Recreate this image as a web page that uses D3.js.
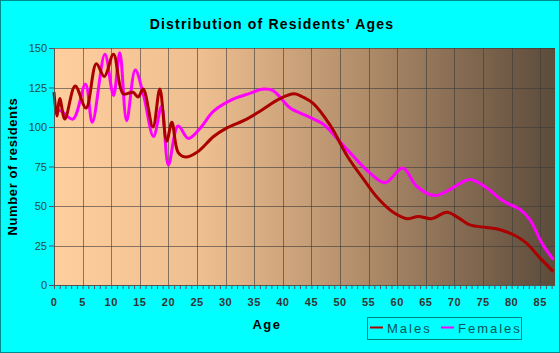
<!DOCTYPE html>
<html lang="en">
  <head>
    <meta charset="UTF-8" />
    <title>Distribution of Residents' Ages</title>
    <style>
      body { margin: 0; background: #fff; }
      svg { display: block; font-family: Arial, "Liberation Sans", sans-serif; }
    </style>
  </head>
  <body>
    <div class="chart"></div>
    <script src="https://d3js.org/d3.v7.min.js"></script>
    <script>
      // 資料（從圖上讀出的估計值）
      const maleAges = [0, 0.5, 1, 1.9, 3.7, 5.6, 7.4, 8.8, 10.4, 12.1, 13.8, 14.7, 15.6, 17.3, 18.5, 19.7, 20.6, 21.7, 23, 25, 27.9, 30, 33.7, 36, 39.5, 42, 43.5, 45.3, 48.3, 51.2, 54.1, 56.6, 59.3, 61.7, 63.7, 66, 68.7, 70.5, 72.7, 75.6, 78, 80.9, 82.6, 85, 87.3];
      const maleValues = [122, 107, 118, 105, 126, 112, 140, 132, 146, 121, 122, 119, 124, 100, 124, 91, 103, 84, 81, 84, 94, 99, 105, 110, 118, 121, 119, 115, 101, 82, 67, 55, 46, 42, 43.4, 42, 46, 43, 38, 36.4, 35, 30.7, 26.5, 17, 8.5];

      const femaleAges = [0, 1.3, 3.3, 5.5, 6.7, 8.9, 10.4, 11.5, 12.7, 14.2, 15.6, 17.4, 18.8, 20, 21.7, 23.5, 25.5, 27.9, 31.3, 34, 36.6, 38.3, 41.3, 44.2, 47.1, 49.4, 52.3, 55.2, 57.9, 61, 63.4, 66.6, 69.2, 72.7, 75.6, 78.6, 81.5, 83.2, 85.3, 87.3];
      const femaleValues = [111, 110, 105, 127, 103, 146, 120, 147, 104, 136, 121, 94, 113, 76, 100.6, 92.8, 99, 110, 117.6, 121, 124, 123, 112, 107, 101.7, 93, 81.6, 71, 64.7, 74, 62.5, 56.6, 60.4, 66.8, 61.5, 53, 47.7, 41.3, 26.5, 16];

      const xTicks = d3.range(0, 90, 5);
      const yTicks = [0, 25, 50, 75, 100, 125, 150];
      const seriesNames = ["Males", "Females"];

      const w = 560, h = 353;
      const margin = { top: 48, right: 5, bottom: 68, left: 54 };

      const svg = d3.select(".chart").append("svg").attr("width", w).attr("height", h);

      // 背景
      svg.append("rect").attr("x", 0).attr("y", 0).attr("width", w).attr("height", h)
        .attr("fill", "#00FFFF").attr("stroke", "#008B8B").attr("stroke-width", 2);

      const xScale = d3.scaleLinear().domain([0, 87.5]).range([margin.left, 554.5]);
      const yScale = d3.scaleLinear().domain([0, 150]).range([h - margin.bottom, margin.top]);

      // 漸層
      const grad = svg.append("defs").append("linearGradient").attr("id", "bg")
        .attr("x1", "0%").attr("x2", "100%").attr("y1", "0%").attr("y2", "0%");
      grad.append("stop").attr("offset", "0%").attr("stop-color", "#FFCE9E");
      grad.append("stop").attr("offset", "30%").attr("stop-color", "#EDBE8F");
      grad.append("stop").attr("offset", "60%").attr("stop-color", "#B48F6C");
      grad.append("stop").attr("offset", "100%").attr("stop-color", "#5C4B3B");

      svg.append("rect")
        .attr("x", xScale(0)).attr("y", yScale(150))
        .attr("width", 555 - xScale(0)).attr("height", yScale(0) - yScale(150))
        .attr("fill", "url(#bg)");

      // 格線
      const grid = svg.append("g").attr("stroke", "#3a3a3a").attr("stroke-opacity", 0.6).attr("stroke-width", 1);
      grid.selectAll(".vg").data(xTicks.filter((d) => d > 0)).enter().append("line")
        .attr("x1", (d) => Math.round(xScale(d)) + 0.5).attr("x2", (d) => Math.round(xScale(d)) + 0.5)
        .attr("y1", yScale(150)).attr("y2", yScale(0));
      grid.selectAll(".hg").data(yTicks.filter((d) => d > 0)).enter().append("line")
        .attr("x1", xScale(0)).attr("x2", 555)
        .attr("y1", (d) => Math.round(yScale(d)) + 0.5).attr("y2", (d) => Math.round(yScale(d)) + 0.5);

      // 線條
      const line = d3.line().x((d) => xScale(d[0])).y((d) => yScale(d[1])).curve(d3.curveCatmullRom.alpha(0.5));
      const maleData = maleAges.map((a, i) => [a, maleValues[i]]);
      const femaleData = femaleAges.map((a, i) => [a, femaleValues[i]]);

      svg.append("path").datum(femaleData).attr("d", line)
        .attr("fill", "none").attr("stroke", "#FF00FF").attr("stroke-width", 3);
      svg.append("path").datum(maleData).attr("d", line)
        .attr("fill", "none").attr("stroke", "#AA0000").attr("stroke-width", 3);

      // X 軸
      const xAxis = d3.axisBottom(xScale).tickValues(d3.range(0, 88, 1)).tickSize(4).tickFormat("");
      const xg = svg.append("g").attr("transform", `translate(0, ${yScale(0)})`).call(xAxis);
      xg.select(".domain").attr("stroke", "#555").attr("d", `M${xScale(0)},0.5H555`);
      xg.selectAll(".tick line").attr("stroke", "#555");

      svg.append("g").selectAll("text").data(xTicks).enter().append("text")
        .attr("x", (d) => xScale(d)).attr("y", 306)
        .attr("text-anchor", "middle").attr("font-size", 11).attr("font-weight", "bold")
        .attr("letter-spacing", 0.5).attr("fill", "#333").text((d) => d);

      // Y 軸
      const yAxis = d3.axisLeft(yScale).tickValues(yTicks).tickSize(5).tickPadding(2);
      const yg = svg.append("g").attr("transform", `translate(${xScale(0)}, 0)`).call(yAxis);
      yg.select(".domain").attr("stroke", "#555");
      yg.selectAll(".tick line").attr("stroke", "#555");
      yg.selectAll(".tick text").attr("font-size", 11).attr("fill", "#1f4d3a").attr("font-family", "Arial, sans-serif");

      // 標題
      svg.append("text").attr("x", 272).attr("y", 29).attr("text-anchor", "middle")
        .attr("font-size", 14).attr("font-weight", "bold").attr("letter-spacing", 1.2)
        .attr("fill", "#000").text("Distribution of Residents' Ages");

      svg.append("text").attr("transform", `translate(17, ${(yScale(0) + yScale(150)) / 2}) rotate(-90)`)
        .attr("text-anchor", "middle").attr("font-size", 13).attr("font-weight", "bold")
        .attr("letter-spacing", 0.6).attr("fill", "#000").text("Number of residents");

      svg.append("text").attr("x", 267).attr("y", 329).attr("text-anchor", "middle")
        .attr("font-size", 13).attr("font-weight", "bold").attr("letter-spacing", 1.5)
        .attr("fill", "#000").text("Age");

      // 圖例
      svg.append("rect").attr("x", 367.5).attr("y", 317.5).attr("width", 154).attr("height", 22)
        .attr("fill", "none").attr("stroke", "#008080");
      const legendColors = ["#AA0000", "#FF00FF"];
      const legendX = [370, 441];
      seriesNames.forEach((name, i) => {
        svg.append("line").attr("x1", legendX[i]).attr("x2", legendX[i] + 13)
          .attr("y1", 327.5).attr("y2", 327.5).attr("stroke", legendColors[i]).attr("stroke-width", 2);
        svg.append("text").attr("x", legendX[i] + 17).attr("y", 332.5)
          .attr("font-size", 13).attr("letter-spacing", 2).attr("fill", "#005555").text(name);
      });
    </script>
  </body>
</html>
